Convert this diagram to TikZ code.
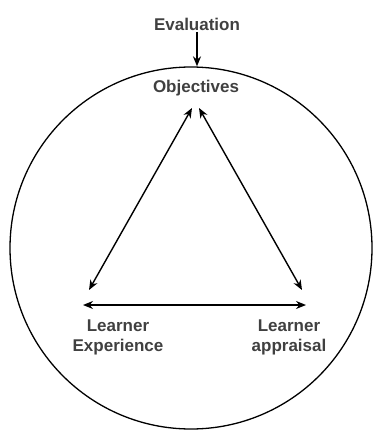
\documentclass[tikz,border=0pt]{standalone}
\usepackage{fontspec}
\setmainfont{Liberation Sans}
\usetikzlibrary{arrows.meta}
\begin{document}
\begin{tikzpicture}[x=1pt,y=-1pt,line width=1.4pt,
  >={Stealth[length=10pt,width=8pt]},
  lbl/.style={font=\fontsize{17}{20}\bfseries,text=black!75,align=center,inner sep=1pt}]
  \useasboundingbox (0,0) rectangle (374,430);
  \node[circle,draw,line width=1.3pt,minimum size=362pt,inner sep=0pt] (world) at (191,248) {};
  \node[lbl] (eval) at (197,24) {Evaluation};
  \node[lbl] (obj) at (196,88) {Objectives};
  \node[lbl] (exp) at (118,337) {Learner\\Experience};
  \node[lbl] (app) at (289,337) {Learner\\appraisal};
  \coordinate (topL) at (192,108);
  \coordinate (topR) at (199,108);
  \coordinate (expT) at (89,290);
  \coordinate (appT) at (302,290);
  \coordinate (expB) at (83,305);
  \coordinate (appB) at (306,305);
  \draw[->](eval.south)--(eval.south |- world.north);
  \draw[<->](topL)--(expT);
  \draw[<->](topR)--(appT);
  \draw[<->](expB)--(appB);
\end{tikzpicture}
\end{document}
